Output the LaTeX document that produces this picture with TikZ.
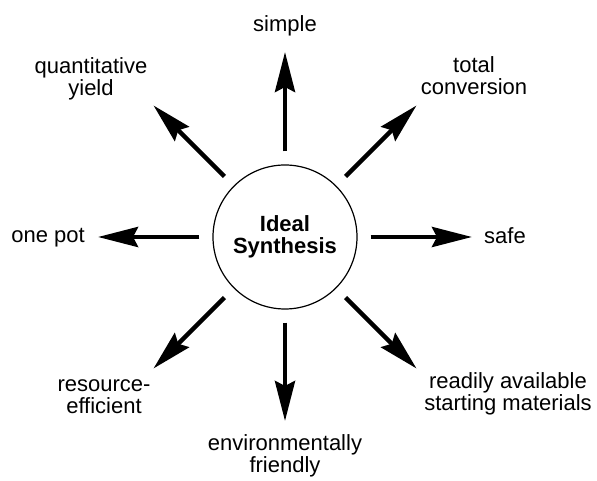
\documentclass[tikz,border=0pt]{standalone}
\usepackage{fontspec}
\setmainfont{Liberation Sans}
\usetikzlibrary{arrows.meta,calc}

\begin{document}
\begin{tikzpicture}[x=1pt,y=1pt,
  hub/.style={draw, circle, line width=1.2pt, minimum size=144pt, inner sep=0pt,
    align=center, font=\fontsize{22}{21.5}\selectfont\bfseries},
  lbl/.style={align=center, inner sep=0pt, font=\fontsize{22}{22}\selectfont},
  ray/.style={line width=4.5pt, shorten <=13pt,
    -{Stealth[length=40pt, width=20pt, inset=5pt]}}]

  % page frame
  \useasboundingbox (0,0) rectangle (597,481);

  % central circle
  \node[hub] (core) at (285,244) {Ideal\\Synthesis};

  % arrow end points, every 45 degrees round the circle
  \coordinate (tipN)  at ($(core)+(90:185pt)$);
  \coordinate (tipNE) at ($(core)+(45:186pt)$);
  \coordinate (tipE)  at ($(core)+(0:187pt)$);
  \coordinate (tipSE) at ($(core)+(-45:186pt)$);
  \coordinate (tipS)  at ($(core)+(-90:184pt)$);
  \coordinate (tipSW) at ($(core)+(-135:186pt)$);
  \coordinate (tipW)  at ($(core)+(180:187pt)$);
  \coordinate (tipNW) at ($(core)+(135:186pt)$);

  % labels
  \node[lbl, anchor=base] (simple) at (285,449) {simple};
  \node[lbl] (total) at (474,405.5) {total\\conversion};
  \node[lbl, anchor=base] (safe) at (505,237) {safe};
  \node[lbl] (ready) at (508,86.7) {readily available\\starting materials};
  \node[lbl] (env) at (285,24.7) {environmentally\\friendly};
  \node[lbl] (res) at (104,84.7) {resource-\\efficient};
  \node[lbl, anchor=base] (pot) at (48,238) {one pot};
  \node[lbl] (quant) at (91,402.6) {quantitative\\yield};

  % arrows
  \draw[ray] (core) -- (tipN);
  \draw[ray] (core) -- (tipNE);
  \draw[ray] (core) -- (tipE);
  \draw[ray] (core) -- (tipSE);
  \draw[ray] (core) -- (tipS);
  \draw[ray] (core) -- (tipSW);
  \draw[ray] (core) -- (tipW);
  \draw[ray] (core) -- (tipNW);
\end{tikzpicture}
\end{document}
